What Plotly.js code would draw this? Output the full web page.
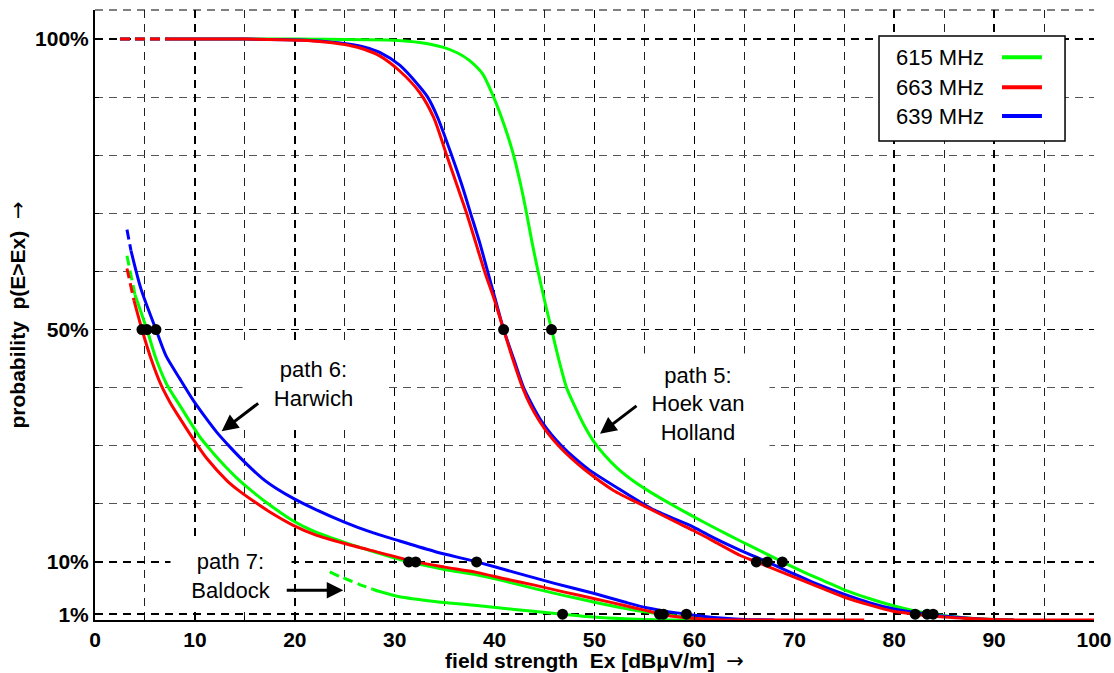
<!DOCTYPE html>
<html><head><meta charset="utf-8">
<script src="https://cdn.plot.ly/plotly-3.0.1.min.js"></script>
<style>html,body{margin:0;padding:0;background:#fff}#chart{width:1114px;height:673px}</style>
</head><body><div id="chart"></div>
<script>
// ---------- series meta ----------
const seriesNames  = ['615 MHz', '663 MHz', '639 MHz'];
const seriesColors = ['#00ff00', '#ff0000', '#0000ff'];

// ---------- y tick labels ----------
const yTickVals = [1, 10, 50, 100];
const yTickText = ['1%', '10%', '50%', '100%'];

// ---------- path 5: Hoek van Holland ----------
const p5Dash_x = [2.5, 7.2];
const p5Dash_y = [100, 100];

const p5_615_x = [7.2, 20, 27, 30, 32.5, 34.8, 36.3, 37.5, 38.8, 39.9, 41.0, 41.9, 42.6, 43.2, 43.75, 44.35, 45.0, 45.7, 46.4, 47.2, 48.0, 48.9, 49.9, 51.0, 52.3, 54.0, 55.8, 57.8, 60, 62.2, 64.6, 66.6, 68.8, 71, 73, 75, 77.5, 80, 82, 83.9, 86, 88, 90, 92];
const p5_615_y = [100, 100, 99.9, 99.8, 99.4, 98.6, 97.6, 96.3, 94, 90, 85, 80, 75, 70, 65, 60, 55, 50, 45, 40, 36.9, 33.7, 30.8, 28.4, 26.1, 23.8, 21.8, 19.8, 17.7, 15.7, 13.6, 11.9, 10, 8.2, 6.7, 5.2, 3.7, 2.4, 1.6, 1.0, 0.55, 0.25, 0.08, 0];

const p5_663_x = [7.2, 15, 20.5, 23, 25.5, 27, 28.5, 30.5, 32.5, 33.9, 35.2, 36.2, 37.2, 38.1, 39.0, 40.0, 40.9, 41.8, 42.8, 43.6, 44.5, 45.4, 46.4, 47.7, 49, 51.9, 55, 58, 59.9, 62, 64.6, 66.2, 68.5, 71, 73, 74.9, 77.5, 79.9, 82.1, 85, 88, 92, 100];
const p5_663_y = [100, 100, 99.8, 99.5, 98.9, 98.2, 97.1, 94.5, 90.8, 86.5, 80, 75, 70, 65, 60, 55, 50, 45, 40, 36.9, 34.2, 32.0, 30, 27.8, 25.9, 22.3, 19.6, 17.0, 15.4, 13.5, 11.1, 10, 8.4, 6.7, 5.3, 4.0, 2.6, 1.5, 1.0, 0.5, 0.2, 0, 0];

const p5_639_x = [7.2, 15, 20.5, 23, 25.5, 27, 28.5, 30.5, 32.5, 33.3, 34.3, 35.7, 36.7, 37.6, 38.5, 39.3, 40.1, 40.9, 41.9, 42.9, 43.8, 44.7, 45.7, 46.7, 48.0, 49.5, 52.7, 56, 59.9, 62, 64.6, 67.3, 69.5, 72, 74.9, 77.5, 80, 83.3, 86, 89, 92];
const p5_639_y = [100, 100, 99.85, 99.6, 99.1, 98.6, 97.7, 95.5, 91.8, 90, 86.5, 80, 75, 70, 65, 60, 55, 50, 45, 40, 36.9, 34.2, 31.9, 30, 27.9, 25.8, 22.3, 18.9, 16.0, 14.1, 12.0, 10, 8.3, 6.4, 4.5, 3.0, 1.9, 1.0, 0.5, 0.15, 0];

// ---------- path 6: Harwich ----------
const p6_615_dash_x = [3.2, 4.0];
const p6_615_dash_y = [62.7, 56];
const p6_663_dash_x = [3.2, 3.9];
const p6_663_dash_y = [60.5, 55];
const p6_639_dash_x = [3.2, 3.6];
const p6_639_dash_y = [67.2, 63.6];

const p6_615_x = [4.0, 4.6, 5.2, 6.1, 7.2, 8.5, 10.5, 11.8, 13.0, 14.1, 15.2, 17.5, 19.9, 22, 24.9, 28, 31.4, 35, 38.2, 41, 44, 47, 49.9, 53, 55, 56.7, 58.5, 61, 64.4];
const p6_615_y = [56, 53, 50, 45, 40.5, 36.9, 31.5, 28.8, 26.5, 24.6, 22.9, 19.8, 17.0, 15.2, 13.4, 11.7, 10, 8.7, 7.8, 6.7, 5.4, 4.2, 3.1, 2.0, 1.4, 1.0, 0.6, 0.2, 0];

const p6_663_x = [3.9, 4.7, 5.6, 6.6, 7.5, 8.5, 10.2, 11.2, 13.2, 14.3, 16, 17.5, 19.85, 22, 24.9, 28.5, 32.1, 35, 38.2, 41, 44, 47, 49.9, 53, 55, 56.7, 58.5, 61, 64, 77];
const p6_663_y = [55, 50, 45, 40.5, 37.5, 34.7, 30.2, 27.8, 24, 22.4, 20.3, 18.6, 16.3, 14.7, 13.2, 11.6, 10, 9.1, 8.2, 7.1, 6.0, 4.8, 3.7, 2.5, 1.7, 1.0, 0.5, 0.15, 0, 0];

const p6_639_x = [3.6, 4.6, 6.1, 7.1, 8.5, 9.84, 11, 12.2, 13.5, 14.5, 16.8, 18.2, 19.9, 22, 24.9, 27.5, 30.5, 34, 38.2, 42, 46, 49.9, 53, 55.2, 57.5, 59.2, 61, 63, 65, 68];
const p6_639_y = [63.6, 57, 50, 45.5, 41.5, 37.8, 35, 32.3, 29.8, 28, 24.3, 22.6, 20.9, 19.1, 16.9, 15.2, 13.6, 11.8, 10, 8.2, 6.3, 4.6, 3.1, 2.1, 1.4, 1.0, 0.6, 0.3, 0.1, 0];

// ---------- path 7: Baldock (615 MHz only) ----------
const p7_615_dash_x = [23.5, 24.5, 25.5, 26.5, 27.8];
const p7_615_dash_y = [8.3, 7.5, 6.8, 6.1, 5.3];
const p7_615_x = [27.8, 28.5, 30.5, 34, 38.2, 42, 46.8, 49.9, 53, 56, 58, 64];
const p7_615_y = [5.3, 4.9, 4.0, 3.2, 2.5, 1.8, 1.0, 0.5, 0.2, 0.05, 0, 0];

// ---------- marked crossing points ----------
const dotLevels = [50, 10, 1];
const dotX = [
  [4.7, 5.2, 6.1, 40.9, 45.7],
  [31.4, 32.1, 38.2, 66.2, 67.3, 68.8],
  [46.8, 56.5, 56.9, 59.2, 82.1, 83.3, 83.9]
];

// ---------- build traces ----------
const FONT = 'Liberation Sans, Arial, Helvetica, sans-serif';
const DASH = '10px,5px';
function line(x, y, ci, dashed) {
  return {x: x, y: y, type: 'scatter', mode: 'lines', showlegend: false, hoverinfo: 'skip',
          line: {color: seriesColors[ci], width: 3, dash: dashed ? DASH : 'solid',
                 shape: 'spline', smoothing: 0.7}};
}
const traces = [
  // green (615)
  line(p5Dash_x, p5Dash_y, 0, true), line(p5_615_x, p5_615_y, 0),
  line(p6_615_dash_x, p6_615_dash_y, 0, true), line(p6_615_x, p6_615_y, 0),
  line(p7_615_dash_x, p7_615_dash_y, 0, true), line(p7_615_x, p7_615_y, 0),
  // blue (639)
  line(p5Dash_x, p5Dash_y, 2, true), line(p5_639_x, p5_639_y, 2),
  line(p6_639_dash_x, p6_639_dash_y, 2, true), line(p6_639_x, p6_639_y, 2),
  // red (663)
  line(p5Dash_x, p5Dash_y, 1, true), line(p5_663_x, p5_663_y, 1),
  line(p6_663_dash_x, p6_663_dash_y, 1, true), line(p6_663_x, p6_663_y, 1)
];
const dx = [], dy = [];
dotLevels.forEach((lv, i) => dotX[i].forEach(v => { dx.push(v); dy.push(lv); }));
traces.push({x: dx, y: dy, type: 'scatter', mode: 'markers', showlegend: false, hoverinfo: 'skip',
             marker: {color: 'black', size: 11, line: {width: 0}}});

// ---------- custom legend (text left, sample right) ----------
const legendY = [0.9225, 0.8733, 0.8262];
const shapes = [
  {type: 'line', xref: 'paper', yref: 'paper', x0: 0, x1: 1, y0: 1, y1: 1,
   line: {color: 'black', width: 1, dash: '8px,6px'}},
  {type: 'rect', xref: 'paper', yref: 'paper', x0: 0.7848, x1: 0.971, y0: 0.7852, y1: 0.9574,
   fillcolor: 'white', line: {color: 'black', width: 1.5}, layer: 'above'}
];
const annotations = [];
seriesNames.forEach((n, i) => {
  shapes.push({type: 'line', xref: 'paper', yref: 'paper', x0: 0.9079, x1: 0.9479, y0: legendY[i], y1: legendY[i],
               line: {color: seriesColors[i], width: 4}, layer: 'above'});
  annotations.push({xref: 'paper', yref: 'paper', x: 0.7998, y: legendY[i], xanchor: 'left', yanchor: 'middle',
                    text: n, showarrow: false, font: {family: FONT, size: 22, color: 'black'}});
});

// ---------- path labels ----------
const labelFont = {family: FONT, size: 22, color: 'black'};
annotations.push(
  {x: 21.87, y: 40.6, xref: 'x', yref: 'y', text: 'path 6:<br>Harwich', showarrow: false,
   bgcolor: 'white', borderpad: 0, width: 141, height: 82, font: labelFont},
  {x: 60.36, y: 37.2, xref: 'x', yref: 'y', text: 'path 5:<br>Hoek van<br>Holland', showarrow: false,
   bgcolor: 'white', borderpad: 0, width: 142, height: 100, font: labelFont},
  {x: 13.6, y: 7.6, xref: 'x', yref: 'y', text: 'path 7:<br>Baldock', showarrow: false,
   bgcolor: 'white', borderpad: 0, width: 120, height: 68, font: labelFont},
  // arrows
  {x: 12.68, y: 32.5, xref: 'x', yref: 'y', text: '', showarrow: true, ax: 38, ay: -29,
   arrowhead: 2, arrowsize: 1.1, arrowwidth: 3, arrowcolor: 'black', standoff: 0},
  {x: 50.55, y: 32.07, xref: 'x', yref: 'y', text: '', showarrow: true, ax: 38, ay: -29,
   arrowhead: 2, arrowsize: 1.1, arrowwidth: 3, arrowcolor: 'black', standoff: 0},
  {x: 24.85, y: 5.13, xref: 'x', yref: 'y', text: '', showarrow: true, ax: -58, ay: 0,
   arrowhead: 2, arrowsize: 1.1, arrowwidth: 3, arrowcolor: 'black', standoff: 0}
);

const ARROW = '<span style="font-family:DejaVu Sans;font-weight:normal">→</span>';
const tickFont = {family: FONT, size: 21, color: 'black', weight: 'bold'};
const layout = {
  width: 1114, height: 673,
  margin: {l: 95, r: 20, t: 10, b: 53},
  paper_bgcolor: 'white', plot_bgcolor: 'white',
  showlegend: false,
  xaxis: {
    range: [0, 100], tick0: 0, dtick: 10, tickmode: 'linear',
    showgrid: true, gridcolor: 'black', gridwidth: 1.5, griddash: '8px,6px',
    minor: {tick0: 0, dtick: 5, showgrid: true, gridcolor: '#222', gridwidth: 1, griddash: '8px,6px',
            ticks: 'inside', ticklen: 4, tickcolor: 'black'},
    ticks: 'inside', ticklen: 5, tickcolor: 'black',
    showline: true, linecolor: 'black', linewidth: 2, zeroline: false, automargin: false,
    tickfont: tickFont,
    title: {text: 'field strength\u00a0\u00a0Ex [dBμV/m]\u00a0\u00a0' + ARROW, standoff: 3,
            font: {family: FONT, size: 21, color: 'black', weight: 'bold'}}
  },
  yaxis: {
    range: [0, 105], tickmode: 'array', tickvals: yTickVals, ticktext: yTickText,
    showgrid: true, gridcolor: 'black', gridwidth: 1.5, griddash: '8px,6px',
    minor: {tick0: 0, dtick: 10, showgrid: true, gridcolor: '#555', gridwidth: 1, griddash: '8px,6px',
            ticks: 'inside', ticklen: 4, tickcolor: 'black'},
    ticks: 'inside', ticklen: 5, tickcolor: 'black',
    showline: true, linecolor: 'black', linewidth: 2, zeroline: false, automargin: false,
    tickfont: tickFont,
    title: {text: 'probability\u00a0\u00a0p(E>Ex)\u00a0\u00a0' + ARROW, standoff: 4,
            font: {family: FONT, size: 21, color: 'black', weight: 'bold'}}
  },
  shapes: shapes,
  annotations: annotations
};
Plotly.newPlot('chart', traces, layout, {displayModeBar: false, staticPlot: true});
</script>
</body></html>
